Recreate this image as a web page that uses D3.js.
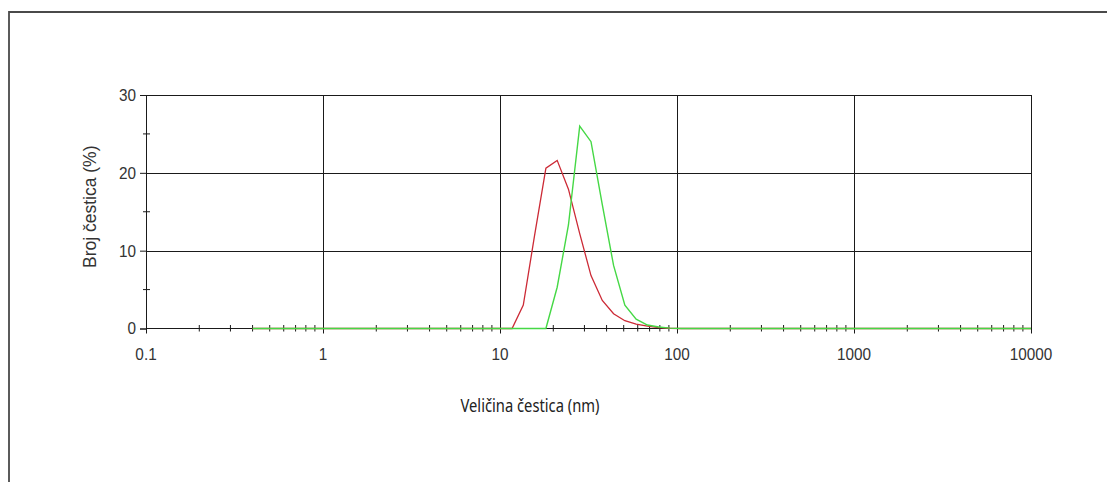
<!DOCTYPE html>
<html>
<head>
<meta charset="utf-8">
<script src="https://cdn.jsdelivr.net/npm/d3@7"></script>
<style>
	body { margin: 0; background: #fff; }
	svg { display: block; }
</style>
</head>
<body>
<div id="chart-area"></div>
<script>
// velicine (nm) - zetasizer klase, samo one koje trebaju
var sizes = [0.4, 10.1, 11.7, 13.54, 15.69, 18.17, 21.04, 24.36, 28.21, 32.67, 37.84, 43.82, 50.75, 58.77, 68.06, 78.82, 91.28, 105.7, 10000];
var redValues = [0, 0, 0, 3.0, 12.0, 20.6, 21.6, 17.9, 12.2, 6.8, 3.6, 1.9, 1.0, 0.55, 0.3, 0.12, 0.03, 0, 0];
var greenValues = [0, 0, 0, 0, 0, 0, 5.3, 13.3, 26.0, 24.0, 15.9, 8.1, 3.0, 1.2, 0.45, 0.2, 0.05, 0, 0];

var xTicks = [0.1, 1, 10, 100, 1000, 10000];
var xTickLabels = ["0.1", "1", "10", "100", "1000", "10000"];
var yTicks = [0, 10, 20, 30];
var yMinorTicks = [5, 15, 25];

const widthinput = 1107;
const heightinput = 482;

var margin = {
		top: 95,
		right: 76,
		bottom: 153.5,
		left: 146
	};

var width = widthinput - margin.left - margin.right,
	height = heightinput - margin.top - margin.bottom;

var svg = d3.select("#chart-area")
		.append("svg")
			.attr("width", widthinput)
			.attr("height", heightinput);

// ram oko slike (lijevo i gore)
svg.append("path")
	.attr("d", "M9," + heightinput + "V12H" + widthinput)
	.attr("fill", "none")
	.attr("stroke", "#4a4a4a")
	.attr("stroke-width", 1.8);

var g = svg.append("g")
	.attr("transform", "translate(" + margin.left + ", " + margin.top + ")");

var x = d3.scaleLog()
	.domain([0.1, 10000])
	.range([0, width]);

var y = d3.scaleLinear()
	.domain([0, 30])
	.range([height, 0]);

var minorX = [];
xTicks.slice(0, -1).forEach(function(t) {
	for (var k = 2; k <= 9; k++) minorX.push(t * k);
});

// mreza
g.selectAll(".hgrid")
	.data(yTicks.slice(1))
	.enter().append("line")
		.attr("class", "hgrid")
		.attr("x1", 0)
		.attr("x2", width)
		.attr("y1", function(d) { return Math.round(y(d)) + 0.5; })
		.attr("y2", function(d) { return Math.round(y(d)) + 0.5; })
		.attr("stroke", "#1a1a1a")
		.attr("stroke-width", 1);

g.selectAll(".vgrid")
	.data(xTicks)
	.enter().append("line")
		.attr("class", "vgrid")
		.attr("x1", function(d) { return Math.round(x(d)) + 0.5; })
		.attr("x2", function(d) { return Math.round(x(d)) + 0.5; })
		.attr("y1", y(30))
		.attr("y2", height + 5)
		.attr("stroke", "#1a1a1a")
		.attr("stroke-width", 1);

// x os
g.append("line")
	.attr("x1", 0)
	.attr("x2", width)
	.attr("y1", height)
	.attr("y2", height)
	.attr("stroke", "#1a1a1a")
	.attr("stroke-width", 1);

g.selectAll(".xminor")
	.data(minorX)
	.enter().append("line")
		.attr("class", "xminor")
		.attr("x1", function(d) { return x(d); })
		.attr("x2", function(d) { return x(d); })
		.attr("y1", height - 3.5)
		.attr("y2", height + 3)
		.attr("stroke", "#1a1a1a")
		.attr("stroke-width", 1);

// y os
var yAxisCall = d3.axisLeft(y)
	.tickValues(yTicks)
	.tickSize(6)
	.tickPadding(4)
	.tickFormat(d3.format("d"));

var yAxis = g.append("g")
	.attr("class", "y axis")
	.call(yAxisCall);

yAxis.select(".domain").attr("stroke", "#1a1a1a");
yAxis.selectAll(".tick line").attr("stroke", "#1a1a1a");
yAxis.selectAll("text")
	.attr("font-family", "'Liberation Sans', Arial, sans-serif")
	.attr("font-size", "17px")
	.attr("fill", "#333");

g.selectAll(".yminor")
	.data(yMinorTicks)
	.enter().append("line")
		.attr("class", "yminor")
		.attr("x1", -3)
		.attr("x2", 4)
		.attr("y1", function(d) { return y(d); })
		.attr("y2", function(d) { return y(d); })
		.attr("stroke", "#1a1a1a")
		.attr("stroke-width", 1);

g.selectAll(".xlabel")
	.data(xTicks)
	.enter().append("text")
		.attr("class", "xlabel")
		.attr("x", function(d) { return x(d); })
		.attr("y", height + 31)
		.attr("text-anchor", "middle")
		.attr("font-family", "'Liberation Sans', Arial, sans-serif")
		.attr("font-size", "17px")
		.attr("fill", "#333")
		.text(function(d, i) { return xTickLabels[i]; });

// malo suzeno kao na originalu
g.selectAll(".xlabel, .y.axis text").each(function() {
	var l = this.getComputedTextLength();
	d3.select(this)
		.attr("textLength", l * 0.9)
		.attr("lengthAdjust", "spacingAndGlyphs");
});

// naslovi osi
g.append("text")
	.attr("transform", "translate(-50," + (height / 2 - 5) + ") rotate(-90)")
	.attr("text-anchor", "middle")
	.attr("font-family", "'Liberation Sans', Arial, sans-serif")
	.attr("font-size", "17.5px")
	.attr("fill", "#333")
	.text("Broj čestica (%)");

g.append("text")
	.attr("x", x(10) + 30)
	.attr("y", height + 83)
	.attr("text-anchor", "middle")
	.attr("font-family", "'Noto Sans', sans-serif")
	.attr("font-size", "18px")
	.attr("fill", "#222")
	.attr("textLength", 139)
	.attr("lengthAdjust", "spacingAndGlyphs")
	.text("Veličina čestica (nm)");

var line = d3.line()
	.x(function(d) { return x(d[0]); })
	.y(function(d) { return y(d[1]); });

g.append("path")
	.attr("class", "line red")
	.attr("fill", "none")
	.attr("stroke", "#cc2a36")
	.attr("stroke-width", 1.3)
	.attr("d", line(d3.zip(sizes, redValues)));

g.append("path")
	.attr("class", "line green")
	.attr("fill", "none")
	.attr("stroke", "#45d845")
	.attr("stroke-width", 1.4)
	.attr("d", line(d3.zip(sizes, greenValues)));
</script>
</body>
</html>
